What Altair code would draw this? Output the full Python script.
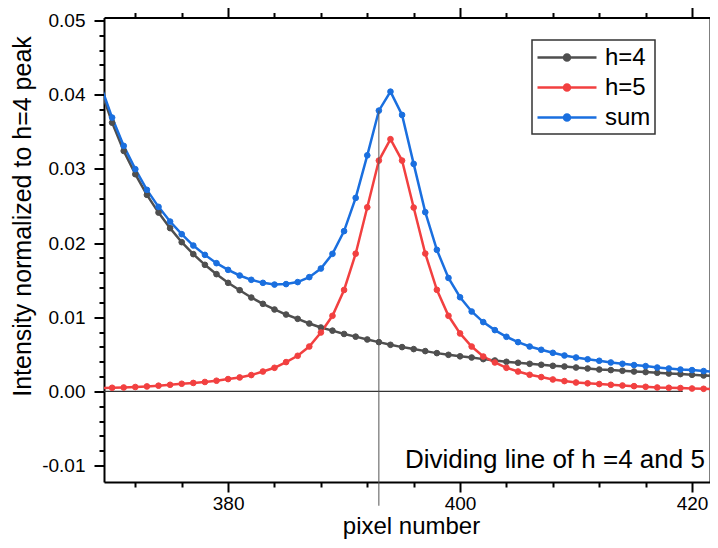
import altair as alt
import pandas as pd

# ---------------- data ----------------
pixel = list(range(369, 423))

h4 = [0.04080, 0.03623, 0.03242, 0.02928, 0.02650, 0.02411, 0.02201, 0.02012,
      0.01851, 0.01707, 0.01581, 0.01464, 0.01365, 0.01266, 0.01181, 0.01105,
      0.01037, 0.00979, 0.00916, 0.00862, 0.00820, 0.00775, 0.00739, 0.00701,
      0.00665, 0.00629, 0.00598, 0.00571, 0.00544, 0.00517, 0.00494, 0.00474,
      0.00458, 0.00436, 0.00418, 0.00400, 0.00387, 0.00373, 0.00360, 0.00346,
      0.00337, 0.00323, 0.00310, 0.00296, 0.00288, 0.00279, 0.00269, 0.00261,
      0.00252, 0.00242, 0.00234, 0.00225, 0.00216, 0.00207]

h5 = [0.00046, 0.00050, 0.00054, 0.00060, 0.00068, 0.00078, 0.00090, 0.00104,
      0.00115, 0.00128, 0.00145, 0.00167, 0.00189, 0.00221, 0.00269, 0.00319,
      0.00396, 0.00481, 0.00606, 0.00795, 0.01020, 0.01368, 0.01857, 0.02482,
      0.03112, 0.03400, 0.03112, 0.02479, 0.01859, 0.01370, 0.01020, 0.00782,
      0.00606, 0.00471, 0.00391, 0.00319, 0.00269, 0.00225, 0.00194, 0.00162,
      0.00140, 0.00121, 0.00110, 0.00100, 0.00090, 0.00081, 0.00072, 0.00063,
      0.00054, 0.00050, 0.00046, 0.00040, 0.00036, 0.00032]

total = [0.04130, 0.03691, 0.03310, 0.02996, 0.02717, 0.02488, 0.02290, 0.02120,
         0.01967, 0.01841, 0.01729, 0.01639, 0.01563, 0.01505, 0.01464, 0.01441,
         0.01447, 0.01474, 0.01541, 0.01657, 0.01855, 0.02161, 0.02609, 0.03182,
         0.03785, 0.04041, 0.03727, 0.03067, 0.02417, 0.01909, 0.01530, 0.01270,
         0.01078, 0.00935, 0.00827, 0.00737, 0.00665, 0.00606, 0.00562, 0.00521,
         0.00485, 0.00458, 0.00434, 0.00414, 0.00391, 0.00373, 0.00356, 0.00342,
         0.00323, 0.00310, 0.00296, 0.00288, 0.00275, 0.00265]

series_names = ["h=4", "h=5", "sum"]
series_colors = ["#4f4f4f", "#f24040", "#1a6fdf"]

x_ticks = list(range(372, 421, 4))
y_ticks = [-0.010, -0.008, -0.006, -0.004, -0.002, 0.000, 0.002, 0.004, 0.006,
           0.008, 0.010, 0.012, 0.014, 0.016, 0.018, 0.020, 0.022, 0.024, 0.026,
           0.028, 0.030, 0.032, 0.034, 0.036, 0.038, 0.040, 0.042, 0.044, 0.046,
           0.048, 0.050]

divider_pixel = 393
divider_bottom = -0.0154
baseline_start = 369
baseline_end = 419.2
note_text = "Dividing line of h =4 and 5"
note_x = 395.25
note_y = -0.0092

x_domain = [369.3, 421.55]
y_domain = [-0.0122, 0.0504]

# ---------------- tables ----------------
rows = []
for name, vals in zip(series_names, [h4, h5, total]):
    for p, v in zip(pixel, vals):
        rows.append({"pixel": p, "value": v, "series": name})
df = pd.DataFrame(rows)

base_df = pd.DataFrame({"x": [baseline_start], "x2": [baseline_end], "y": [0.0]})
div_df = pd.DataFrame({"x": [divider_pixel],
                       "y": [total[pixel.index(divider_pixel)]],
                       "y2": [divider_bottom]})
note_df = pd.DataFrame({"x": [note_x], "y": [note_y], "t": [note_text]})

FONT = "Liberation Sans"
xs = alt.Scale(domain=x_domain, zero=False, nice=False)
ys = alt.Scale(domain=y_domain, zero=False, nice=False)
cs = alt.Scale(domain=series_names, range=series_colors)

x_major = "datum.value % 20 === 0"
y_major = "abs(round(datum.value * 1000)) % 10 === 0"
x_tick_size = {"condition": {"test": x_major, "value": 10}, "value": 5}
y_tick_size = {"condition": {"test": y_major, "value": 10}, "value": 5}

x_axis = alt.Axis(values=x_ticks, labelExpr=f"{x_major} ? format(datum.value, 'd') : ''",
                  tickSize=x_tick_size, labelPadding=2, title="pixel number",
                  titleX=307, titleY=51, titleBaseline="alphabetic", titleAlign="center",
                  titleFontSize=24)
y_axis = alt.Axis(values=y_ticks,
                  labelExpr=f"{y_major} ? (datum.value < 0 ? '-' : '') + format(abs(datum.value), '.2f') : ''",
                  tickSize=y_tick_size, labelPadding=9,
                  title="Intensity normalized to h=4 peak",
                  titleX=-74, titleY=198.5, titleAngle=270,
                  titleBaseline="alphabetic", titleAlign="center")
x_axis_top = alt.Axis(orient="top", values=x_ticks, labels=False, tickSize=x_tick_size, title=None)
y_axis_right = alt.Axis(orient="right", values=y_ticks, labels=False, tickSize=y_tick_size, title=None)

legend_path = "M-1,0L3.917,0M1.708,0A0.25,0.25,0,1,1,1.208,0A0.25,0.25,0,1,1,1.708,0Z"

legend = alt.Legend(
    title=None, orient="none", legendX=428, legendY=22.5,
    symbolType=legend_path, symbolSize=576, symbolStrokeWidth=2.5, symbolOpacity=1,
    labelFont=FONT, labelFontSize=24, labelColor="black", labelOffset=42,
    rowPadding=4, padding=4, strokeColor="#333333", fillColor="white",
)

lines = alt.Chart(df).mark_line(strokeWidth=2.5, clip=True).encode(
    x=alt.X("pixel:Q", scale=xs, axis=x_axis),
    y=alt.Y("value:Q", scale=ys, axis=y_axis),
    stroke=alt.Stroke("series:N", scale=cs, legend=legend),
)

points = alt.Chart(df).mark_point(filled=True, size=32, opacity=1, strokeWidth=1,
                                  clip=True).encode(
    x=alt.X("pixel:Q", scale=xs, axis=x_axis_top),
    y=alt.Y("value:Q", scale=ys, axis=y_axis_right),
    fill=alt.Fill("series:N", scale=cs, legend=legend),
    stroke=alt.Stroke("series:N", scale=cs, legend=legend),
)

zero_line = alt.Chart(base_df).mark_rule(color="#333333", strokeWidth=1.2, clip=True).encode(
    x=alt.X("x:Q", scale=xs, axis=None), x2="x2:Q",
    y=alt.Y("y:Q", scale=ys, axis=None),
)

divider = alt.Chart(div_df).mark_rule(color="#555555", strokeWidth=1, clip=False).encode(
    x=alt.X("x:Q", scale=xs, axis=None),
    y=alt.Y("y:Q", scale=ys, axis=None), y2="y2:Q",
)

note = alt.Chart(note_df).mark_text(align="left", baseline="middle", font=FONT,
                                    fontSize=26, color="black").encode(
    x=alt.X("x:Q", scale=xs, axis=None),
    y=alt.Y("y:Q", scale=ys, axis=None),
    text="t:N",
)

chart = alt.layer(zero_line, lines, points, divider, note).resolve_axis(
    x="independent", y="independent"
).properties(
    width=606, height=464.5,
    autosize=alt.AutoSizeParams(type="none"),
    padding={"left": 96, "top": 9.5, "right": 0, "bottom": 58},
).configure_view(stroke=None).configure_axis(
    grid=False, domainColor="black", domainWidth=2, tickColor="black", tickWidth=2,
    labelFont=FONT, labelFontSize=19, labelColor="black",
    titleFont=FONT, titleFontSize=25, titleFontWeight="normal", titleColor="black",
).configure_legend(strokeWidth=1.5)

chart.save("out.html", embed_options={"renderer": "svg", "actions": False})
